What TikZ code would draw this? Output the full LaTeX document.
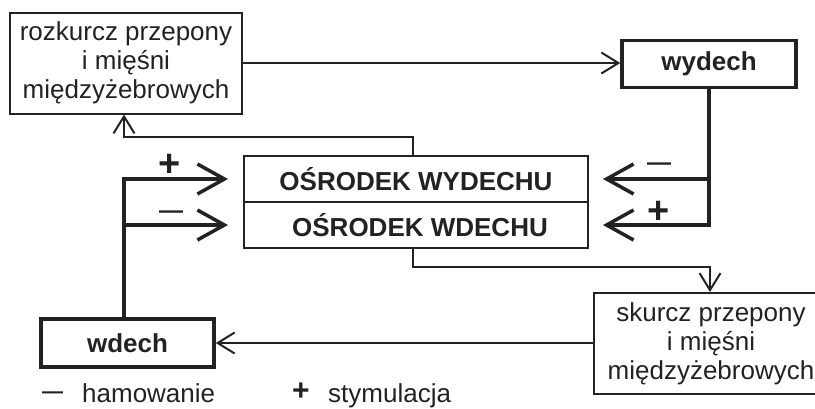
\documentclass[tikz,border=0pt]{standalone}
\usepackage{fontspec}
\setmainfont{Liberation Sans}
\usetikzlibrary{arrows.meta}
\definecolor{ink}{HTML}{222222}
\begin{document}
\begin{tikzpicture}[x=1pt,y=-1pt,
  every node/.style={inner sep=0pt, text=ink, font=\fontsize{26}{29}\selectfont},
  box/.style={draw=ink, line width=2pt, align=center},
  boldbox/.style={box, font=\fontsize{26}{29}\selectfont\bfseries},
  thickbox/.style={draw=ink, line width=3.5pt, font=\fontsize{26}{29}\selectfont\bfseries},
  conn/.style={draw=ink, line width=2pt, -{Straight Barb[length=17pt,width=21pt]}},
  bigarr/.style={draw=ink, line width=3.5pt, -{Straight Barb[length=27pt,width=30pt]}},
  plussign/.style={font=\fontsize{38}{38}\selectfont\bfseries},
  minussign/.style={font=\fontsize{24}{24}\selectfont\bfseries},
]
\useasboundingbox (0,0) rectangle (815,408);

% boxes
\node[box, minimum width=232pt, minimum height=101pt] (rozk) at (126,63) {rozkurcz przepony\\i mięśni\\międzyżebrowych};
\node[thickbox, minimum width=174pt, minimum height=47pt] (wyd) at (709,64) {wydech};
\node[boldbox, minimum width=344pt, minimum height=46pt] (owy) at (416,179) {OŚRODEK WYDECHU};
\node[boldbox, minimum width=344pt, minimum height=46pt] (owd) at (416,225) {\hspace*{8pt}OŚRODEK WDECHU};
\node[box, minimum width=234pt, minimum height=101pt] (sk) at (711,343.5) {skurcz przepony\\i mięśni\\międzyżebrowych};
\node[thickbox, minimum width=173pt, minimum height=48pt] (wd) at (127.5,343) {wdech};

% helper coordinates
\coordinate (xL) at (124,0);
\coordinate (xC) at (413,0);
\coordinate (xR) at (710,0);
\coordinate (yT) at (0,137);
\coordinate (yB) at (0,267);

% thin connectors
\draw[conn] (rozk.east) -- (rozk.east -| wyd.west);
\draw[conn] (owy.north -| xC) |- (yT -| xL) -- (rozk.south -| xL);
\draw[conn] (owd.south -| xC) |- (yB -| xR) -- (sk.north -| xR);
\draw[conn] (sk.west |- wd.east) -- (wd.east);

% big arrows left
\draw[bigarr] (wd.north -| xL) |- ([xshift=-15pt]owy.west);
\draw[bigarr] (owd.west -| xL) -- ([xshift=-15pt]owd.west);
% big arrows right
\draw[bigarr] (wyd.south) |- ([xshift=14pt]owd.east);
\draw[bigarr] (wyd.south |- owy.east) -- ([xshift=14pt]owy.east);

% signs
\node[plussign] (p1) at (170,165) {+};
\node[minussign] (m1) at (171,215) {—};
\node[minussign] (m2) at (659,167) {—};
\node[plussign] (p2) at (659,212) {+};

% legend
\node[minussign, font=\fontsize{21}{21}\selectfont\bfseries] (m3) at (52.5,395) {—};
\node[anchor=base west] (l1) at (82,402) {hamowanie};
\node[plussign, font=\fontsize{30}{30}\selectfont\bfseries] (p3) at (301,392) {+};
\node[anchor=base west] (l2) at (328,402) {stymulacja};
\end{tikzpicture}
\end{document}
